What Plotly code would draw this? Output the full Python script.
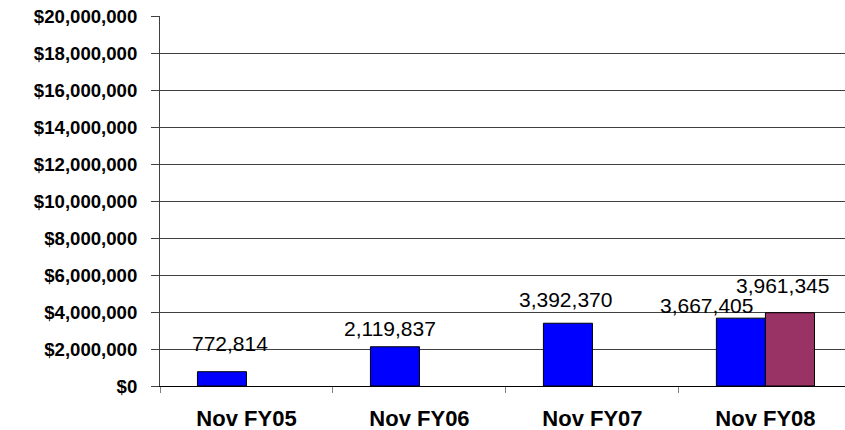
import plotly.graph_objects as go

categories = ["Nov FY05", "Nov FY06", "Nov FY07", "Nov FY08"]
series_a = [772814, 2119837, 3392370, 3667405]
series_b = [None, None, None, 3961345]

# label pixel offsets (style only): (xshift from category centre, yshift above value)
label_style_a = [(-16.5, 28.5), (-29, 18.5), (-26.5, 24), (-59, 13)]
label_style_b = [None, None, None, (17.5, 27)]

FONT = "Arial, Liberation Sans, sans-serif"

fig = go.Figure()
fig.add_trace(go.Bar(x=categories, y=series_a, marker=dict(color="#0000FF", line=dict(color="#000000", width=1)), name="A"))
fig.add_trace(go.Bar(x=categories, y=series_b, marker=dict(color="#993366", line=dict(color="#000000", width=1)), name="B"))

anns = []
for vals, styles in ((series_a, label_style_a), (series_b, label_style_b)):
    for c, v, s in zip(categories, vals, styles):
        if v is None or s is None:
            continue
        anns.append(dict(x=c, y=v, xref="x", yref="y", text=f"{v:,}", showarrow=False,
                         xanchor="center", yanchor="middle", xshift=s[0], yshift=s[1],
                         font=dict(family=FONT, size=21, color="#000000")))

fig.update_layout(
    width=845, height=430,
    margin=dict(l=160, r=0, t=16, b=44),
    paper_bgcolor="white", plot_bgcolor="white",
    barmode="group", bargap=0.433, bargroupgap=0,
    showlegend=False,
    annotations=anns,
    font=dict(family=FONT, color="#000000"),
)
fig.update_xaxes(
    range=[-0.5, 3.46], tickson="boundaries", ticks="outside", ticklen=6, tickcolor="#808080",
    showline=True, linecolor="#000000", linewidth=1, showgrid=False, automargin=False,
    tickfont=dict(family=FONT, size=22, color="#000000", weight="bold"),
    ticklabelstandoff=13,
)
fig.update_yaxes(
    range=[0, 20000000], dtick=2000000, tickprefix="$", tickformat=",d",
    ticks="outside", ticklen=8, tickcolor="#404040",
    showline=True, linecolor="#404040", linewidth=1, automargin=False,
    showgrid=True, gridcolor="#404040", gridwidth=1,
    zeroline=True, zerolinecolor="#000000", zerolinewidth=1,
    tickfont=dict(family=FONT, size=18.6, color="#000000", weight="bold"),
    ticklabelstandoff=10,
)

fig.write_html("out.html", config={"displayModeBar": False},
               post_script="document.body.style.margin='0';")
